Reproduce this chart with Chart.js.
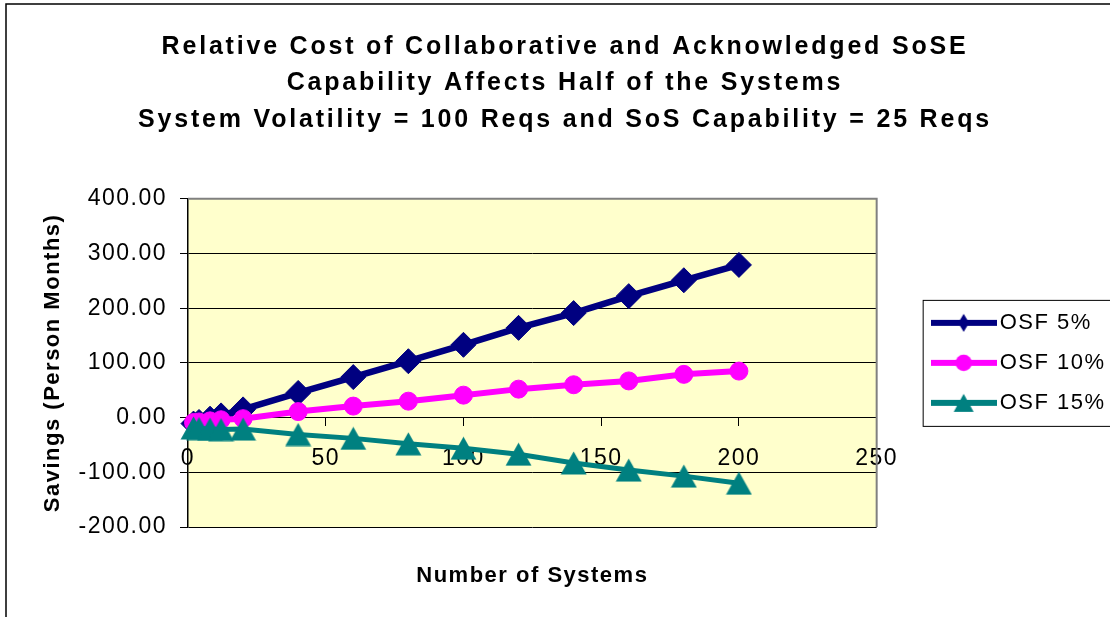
<!DOCTYPE html>
<html>
<head>
<meta charset="utf-8">
<script src="https://cdn.jsdelivr.net/npm/chart.js@4"></script>
<style>
  html, body { margin: 0; padding: 0; background: #fff; overflow: hidden; }
  #wrap { width: 1110px; height: 617px; overflow: hidden; position: relative; }
  canvas { display: block; }
</style>
</head>
<body>
<div id="wrap"><canvas id="dataChart" width="1130" height="617"></canvas></div>
<script>
// Data
const systems = [2, 4, 8, 12, 20, 40, 60, 80, 100, 120, 140, 160, 180, 200];
const osf5 = [-11, -8, -2, 4, 15, 45, 74, 103, 133, 164, 191, 222, 251, 279];
const osf10 = [-9, -8, -6, -4, -2, 11, 21, 30, 41, 52, 60, 67, 79, 85];
const osf15 = [-19, -20, -21, -22, -21, -31, -38, -48, -56, -67, -83, -96, -107, -120];
const seriesNames = ['OSF 5%', 'OSF 10%', 'OSF 15%'];
const xTicks = [0, 50, 100, 150, 200, 250];
const yTicks = [-200, -100, 0, 100, 200, 300, 400];
const titleLines = [
    'Relative Cost of Collaborative and Acknowledged SoSE',
    'Capability Affects Half of the Systems',
    'System Volatility = 100 Reqs and SoS Capability = 25 Reqs'
];
const xTitle = 'Number of Systems';
const yTitle = 'Savings (Person Months)';

const colors = ['#000080', '#ff00ff', '#008080'];

// Legend icon: line with the marker in the middle (Excel style)
function legendIcon(color, shape) {
    const c = document.createElement('canvas');
    c.width = 66;
    c.height = 26;
    const g = c.getContext('2d');
    g.strokeStyle = color;
    g.lineWidth = 6;
    g.beginPath();
    g.moveTo(0, 13);
    g.lineTo(66, 13);
    g.stroke();
    g.fillStyle = color;
    g.beginPath();
    if (shape === 'diamond') {
        g.moveTo(33, 4); g.lineTo(38.5, 13); g.lineTo(33, 22); g.lineTo(27.5, 13);
    } else if (shape === 'circle') {
        g.arc(33, 13, 8.3, 0, Math.PI * 2);
    } else {
        g.moveTo(33, 4); g.lineTo(43, 22); g.lineTo(23, 22);
    }
    g.closePath();
    g.fill();
    return c;
}
const icons = [legendIcon(colors[0], 'diamond'), legendIcon(colors[1], 'circle'), legendIcon(colors[2], 'triangle')];

// Excel triangle marker: box-centred on the point
function triangleMarker(color) {
    const c = document.createElement('canvas');
    c.width = 27;
    c.height = 24;
    const g = c.getContext('2d');
    g.fillStyle = color;
    g.beginPath();
    g.moveTo(13.5, 0.5);
    g.lineTo(26.5, 23.5);
    g.lineTo(0.5, 23.5);
    g.closePath();
    g.fill();
    return c;
}

// Background, frames and letter spacing
const plotFrame = {
    id: 'plotFrame',
    afterInit(chart) {
        const box = chart.titleBlock;
        if (box) {
            box._layers = function () {
                return [{ z: 1, draw: (area) => box.draw(area) }];
            };
        }
    },
    beforeLayout(chart) {
        chart.ctx.letterSpacing = '1.5px';
    },
    afterLayout(chart) {
        // legend sits 44px right of the plot area
        const lg = chart.legend;
        const shift = chart.chartArea.right + 44 - lg.left;
        lg.left += shift;
        lg.right += shift;
    },
    beforeDraw(chart) {
        const { ctx, chartArea: a } = chart;
        ctx.letterSpacing = '1.5px';
        ctx.save();
        ctx.fillStyle = '#ffffcc';
        ctx.fillRect(a.left, a.top, a.right - a.left, a.bottom - a.top);
        ctx.strokeStyle = '#000';
        ctx.lineWidth = 1.5;
        ctx.strokeRect(6, 4, chart.width + 20, chart.height + 20);
        ctx.restore();
    },
    beforeDatasetsDraw(chart) {
        const { ctx, chartArea: a } = chart;
        ctx.save();
        ctx.strokeStyle = '#808080';
        ctx.lineWidth = 2;
        ctx.beginPath();
        ctx.moveTo(a.left, a.top);
        ctx.lineTo(a.right, a.top);
        ctx.lineTo(a.right, a.bottom);
        ctx.stroke();
        ctx.restore();
    },
    afterDatasetsDraw(chart) {
        chart.ctx.letterSpacing = '2.8px';
    },
    afterDraw(chart) {
        const { ctx } = chart;
        ctx.letterSpacing = '1.5px';
        const hb = chart.legend.legendHitBoxes;
        if (!hb || !hb.length) return;
        const last = hb[hb.length - 1];
        const top = hb[0].top - 12;
        const bottom = last.top + last.height + 12;
        ctx.save();
        ctx.strokeStyle = '#000';
        ctx.lineWidth = 1;
        ctx.strokeRect(hb[0].left - 16 + 0.5, top + 0.5, chart.width, bottom - top);
        ctx.restore();
    }
};

Chart.defaults.font.family = "'Liberation Sans', Arial, sans-serif";
Chart.defaults.color = '#000';

function series(values) {
    return systems.map((x, i) => ({ x: x, y: values[i] }));
}

const ctx = document.getElementById('dataChart').getContext('2d');
const dataChart = new Chart(ctx, {
    type: 'line',
    data: {
        datasets: [{
            label: seriesNames[0],
            data: series(osf5),
            borderColor: colors[0],
            backgroundColor: colors[0],
            borderWidth: 6.5,
            pointStyle: 'rectRot',
            pointRadius: 12.5,
            pointBorderWidth: 1,
            order: 2,
            clip: false
        }, {
            label: seriesNames[1],
            data: series(osf10),
            borderColor: colors[1],
            backgroundColor: colors[1],
            borderWidth: 6,
            pointStyle: 'circle',
            pointRadius: 9,
            pointBorderWidth: 1,
            order: 1,
            clip: false
        }, {
            label: seriesNames[2],
            data: series(osf15),
            borderColor: colors[2],
            backgroundColor: colors[2],
            borderWidth: 5,
            pointStyle: triangleMarker(colors[2]),
            pointRadius: 13,
            order: 0,
            clip: false
        }]
    },
    options: {
        responsive: false,
        animation: false,
        events: [],
        layout: { padding: 0 },
        plugins: {
            title: {
                display: true,
                text: titleLines,
                color: '#000',
                font: { size: 25, weight: 'bold', lineHeight: 1.45 },
                padding: { top: 29, bottom: 61 }
            },
            legend: {
                position: 'right',
                fullSize: false,
                labels: {
                    usePointStyle: true,
                    pointStyleWidth: 50,
                    padding: 18,
                    color: '#000',
                    font: { size: 22 },
                    generateLabels: (chart) => chart.data.datasets.map((ds, i) => ({
                        text: ds.label,
                        pointStyle: icons[i],
                        fillStyle: ds.borderColor,
                        strokeStyle: ds.borderColor,
                        lineWidth: 0,
                        hidden: false,
                        datasetIndex: i,
                        fontColor: '#000'
                    }))
                }
            },
            tooltip: { enabled: false }
        },
        scales: {
            x: {
                type: 'linear',
                position: { y: 0 },
                min: 0,
                max: 250,
                afterBuildTicks: (s) => { s.ticks = xTicks.map(v => ({ value: v })); },
                grid: { display: true, drawOnChartArea: false, drawTicks: true, tickLength: 8, color: '#000', tickColor: '#000' },
                border: { display: true, color: '#000', width: 1 },
                ticks: { padding: 19, font: { size: 23 }, color: '#000', maxRotation: 0 }
            },
            x2: {
                type: 'linear',
                position: 'bottom',
                min: 0,
                max: 250,
                grid: { display: false, drawTicks: false },
                border: { display: false },
                ticks: { display: false },
                afterFit: (s) => { s.height = 90; },
                title: {
                    display: true,
                    text: xTitle,
                    color: '#000',
                    font: { size: 22, weight: 'bold', lineHeight: 1.2 },
                    padding: { top: 0, bottom: 28 }
                }
            },
            y: {
                type: 'linear',
                position: 'left',
                min: -200,
                max: 400,
                afterBuildTicks: (s) => { s.ticks = yTicks.map(v => ({ value: v })); },
                afterFit: (s) => { s.width = 188; },
                grid: { color: '#000', lineWidth: 1, tickLength: 8, tickColor: '#000' },
                border: { color: '#000', width: 1.5 },
                ticks: {
                    padding: 13,
                    font: { size: 23 },
                    color: '#000',
                    callback: (v) => Number(v).toFixed(2)
                },
                title: {
                    display: true,
                    text: yTitle,
                    color: '#000',
                    font: { size: 22, weight: 'bold', lineHeight: 1.2 },
                    padding: { top: 40, bottom: 0 }
                }
            },
            yGap: {
                type: 'linear',
                position: 'right',
                display: true,
                grid: { display: false, drawTicks: false },
                border: { display: false },
                ticks: { display: false },
                afterFit: (s) => { s.width = 65; }
            }
        }
    },
    plugins: [plotFrame]
});
</script>
</body>
</html>
